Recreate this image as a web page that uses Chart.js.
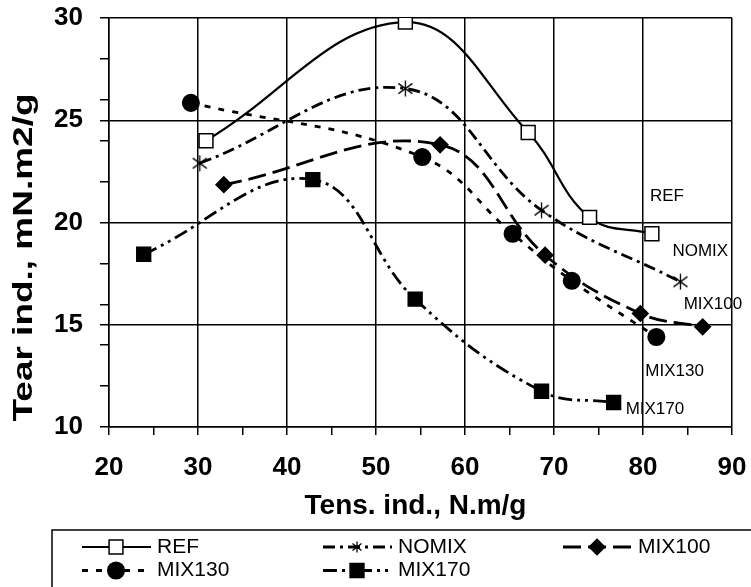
<!DOCTYPE html>
<html>
<head>
<meta charset="utf-8">
<script src="https://cdn.jsdelivr.net/npm/chart.js@4.4.0/dist/chart.umd.min.js"></script>
<style>
  html, body { margin: 0; padding: 0; background: #fff; }
  #wrap { position: relative; width: 751px; height: 587px; }
</style>
</head>
<body>
<div id="wrap"><canvas id="chart"></canvas></div>
<script>
// Tensile index (x) vs tear index (y)
const refX = [30.9, 53.3, 67.1, 74.0, 81.0];
const refY = [24.0, 29.8, 24.4, 20.25, 19.45];
const nomixX = [30.2, 53.3, 68.6, 84.2];
const nomixY = [22.9, 26.55, 20.6, 17.1];
const mix100X = [32.9, 57.2, 69.0, 79.7, 86.7];
const mix100Y = [21.85, 23.8, 18.4, 15.55, 14.9];
const mix130X = [29.2, 55.2, 65.35, 72.0, 81.5];
const mix130Y = [25.85, 23.2, 19.45, 17.15, 14.4];
const mix170X = [23.9, 42.9, 54.4, 68.6, 76.7];
const mix170Y = [18.45, 22.1, 16.25, 11.75, 11.2];

const seriesNames = ['REF', 'NOMIX', 'MIX100', 'MIX130', 'MIX170'];
const xTickLabels = [20, 30, 40, 50, 60, 70, 80, 90];
const yTickLabels = [10, 15, 20, 25, 30];

const FONT = '"Liberation Sans", Arial, sans-serif';
Chart.defaults.font.family = FONT;
Chart.defaults.color = '#000';

function pts(xs, ys) {
  return xs.map((x, i) => ({ x: x, y: ys[i] }));
}

// asterisk marker (x plus vertical bar)
function makeStar(size) {
  const c = document.createElement('canvas');
  c.width = size; c.height = size;
  const g = c.getContext('2d');
  const m = size / 2;
  g.strokeStyle = '#000';
  g.lineWidth = 1.3;
  g.beginPath();
  g.moveTo(m, 0.5); g.lineTo(m, size - 0.5);
  g.moveTo(1.5, size * 0.2); g.lineTo(size - 1.5, size * 0.8);
  g.moveTo(1.5, size * 0.8); g.lineTo(size - 1.5, size * 0.2);
  g.stroke();
  return c;
}
const starBig = makeStar(17);
const starSmall = makeStar(12);

const datasets = [
  { label: seriesNames[0], data: pts(refX, refY), borderDash: [],
    borderWidth: 2.2, pointStyle: 'rect', pointRadius: 9.8, pointBackgroundColor: '#fff' },
  { label: seriesNames[1], data: pts(nomixX, nomixY), borderDash: [12, 5, 3, 5],
    borderWidth: 2.8, pointStyle: starBig, pointRadius: 8 },
  { label: seriesNames[2], data: pts(mix100X, mix100Y), borderDash: [18, 7],
    borderWidth: 2.8, pointStyle: 'rectRot', pointRadius: 7.8, pointBackgroundColor: '#000' },
  { label: seriesNames[3], data: pts(mix130X, mix130Y), borderDash: [6, 8],
    borderWidth: 2.8, pointStyle: 'circle', pointRadius: 8.3, pointBackgroundColor: '#000' },
  { label: seriesNames[4], data: pts(mix170X, mix170Y), borderDash: [14, 5, 3, 5, 3, 5],
    borderWidth: 2.8, pointStyle: 'rect', pointRadius: 9.8, pointBackgroundColor: '#000' }
];
datasets.forEach(ds => {
  ds.borderColor = '#000';
  ds.pointBorderColor = '#000';
  ds.pointBorderWidth = 1.5;
  ds.fill = false;
  ds.tension = 0.4;
});

// where the series names sit, relative to each series' last point (px)
const labelOffsets = [[-2, -37], [-8, -30], [-19, -22], [-11, 34], [12, 7]];

const endLabels = {
  id: 'endLabels',
  afterDatasetsDraw(chart) {
    const { ctx, scales: { x, y } } = chart;
    ctx.save();
    ctx.font = '17px ' + FONT;
    ctx.fillStyle = '#000';
    ctx.textAlign = 'left';
    ctx.textBaseline = 'middle';
    chart.data.datasets.forEach((ds, i) => {
      const last = ds.data[ds.data.length - 1];
      ctx.fillText(ds.label,
        x.getPixelForValue(last.x) + labelOffsets[i][0],
        y.getPixelForValue(last.y) + labelOffsets[i][1]);
    });
    ctx.restore();
  }
};

// axis titles (y title is stretched in the original)
const axisTitles = {
  id: 'axisTitles',
  afterDraw(chart) {
    const { ctx, chartArea } = chart;
    ctx.save();
    ctx.fillStyle = '#000';
    ctx.font = 'bold 28px ' + FONT;
    ctx.textAlign = 'center';
    ctx.textBaseline = 'alphabetic';
    ctx.fillText('Tens. ind., N.m/g', (chartArea.left + chartArea.right) / 2 - 5, chartArea.bottom + 87);

    const yt = 'Tear ind., mN.m2/g';
    const w = ctx.measureText(yt).width;
    ctx.translate(32, 257.5);
    ctx.rotate(-Math.PI / 2);
    ctx.scale(328 / w, 1);
    ctx.fillText(yt, 0, 0);
    ctx.restore();
  }
};

// boxed legend in three columns, like the spreadsheet original
const legendCols = [116, 357, 597];
const legendRows = [547, 570.5];
const legendSlots = [[0, 0], [1, 0], [2, 0], [0, 1], [1, 1]];

const boxLegend = {
  id: 'boxLegend',
  afterDraw(chart) {
    const { ctx } = chart;
    ctx.save();
    ctx.strokeStyle = '#000';
    ctx.lineWidth = 1.5;
    ctx.strokeRect(52, 530, 760, 80);

    chart.data.datasets.forEach((ds, i) => {
      const cx = legendCols[legendSlots[i][0]];
      const cy = legendRows[legendSlots[i][1]];
      ctx.save();
      ctx.strokeStyle = '#000';
      ctx.lineWidth = ds.borderWidth;
      ctx.setLineDash(ds.borderDash);
      ctx.beginPath();
      ctx.moveTo(cx - 34, cy);
      ctx.lineTo(cx + 35, cy);
      ctx.stroke();
      ctx.restore();

      if (ds.pointStyle instanceof HTMLCanvasElement) {
        ctx.drawImage(starSmall, cx - 6, cy - 6, 12, 12);
      } else {
        ctx.fillStyle = ds.pointBackgroundColor;
        ctx.strokeStyle = '#000';
        ctx.lineWidth = 1.5;
        Chart.helpers.drawPoint(ctx, {
          pointStyle: ds.pointStyle, radius: ds.pointRadius, borderWidth: 1.5, rotation: 0
        }, cx, cy);
      }

      ctx.fillStyle = '#000';
      ctx.font = '21px ' + FONT;
      ctx.textAlign = 'left';
      ctx.textBaseline = 'middle';
      ctx.fillText(ds.label, cx + 41, cy);
    });
    ctx.restore();
  }
};

const ctx = document.getElementById('chart').getContext('2d');
const myChart = new Chart(ctx, {
  type: 'line',
  data: { datasets: datasets },
  options: {
    responsive: true,
    maintainAspectRatio: false,
    animation: false,
    layout: { padding: { top: 18, right: 19, left: 0, bottom: 0 } },
    plugins: { legend: { display: false }, tooltip: { enabled: false } },
    scales: {
      x: {
        type: 'linear',
        min: 20, max: 90,
        afterFit: scale => {
          scale.height = 160;
          scale.paddingLeft = 0;
          scale.paddingRight = 0;
        },
        ticks: {
          stepSize: 5, autoSkip: false, maxRotation: 0, padding: 17,
          font: { size: 26, weight: 'bold' },
          callback: v => xTickLabels.includes(v) ? v : ''
        },
        grid: {
          color: c => (c.tick && c.tick.value % 10 === 0) ? '#000' : 'rgba(0,0,0,0)',
          tickColor: '#000',
          tickLength: 8,
          lineWidth: 1.5
        },
        border: { display: true, color: '#000', width: 1.5 }
      },
      y: {
        min: 10, max: 30,
        afterFit: scale => {
          scale.width = 109;
          scale.paddingTop = 0;
          scale.paddingBottom = 0;
        },
        ticks: {
          stepSize: 1, autoSkip: false, padding: 17,
          font: { size: 26, weight: 'bold' },
          callback: v => yTickLabels.includes(v) ? v : ''
        },
        grid: {
          color: c => (c.tick && c.tick.value % 5 === 0) ? '#000' : 'rgba(0,0,0,0)',
          tickColor: c => (c.tick && (c.tick.value % 2 === 0 || c.tick.value % 5 === 0)) ? '#000' : 'rgba(0,0,0,0)',
          tickLength: 9,
          lineWidth: 1.5
        },
        border: { display: true, color: '#000', width: 1.5 }
      }
    }
  },
  plugins: [endLabels, axisTitles, boxLegend]
});
</script>
</body>
</html>
